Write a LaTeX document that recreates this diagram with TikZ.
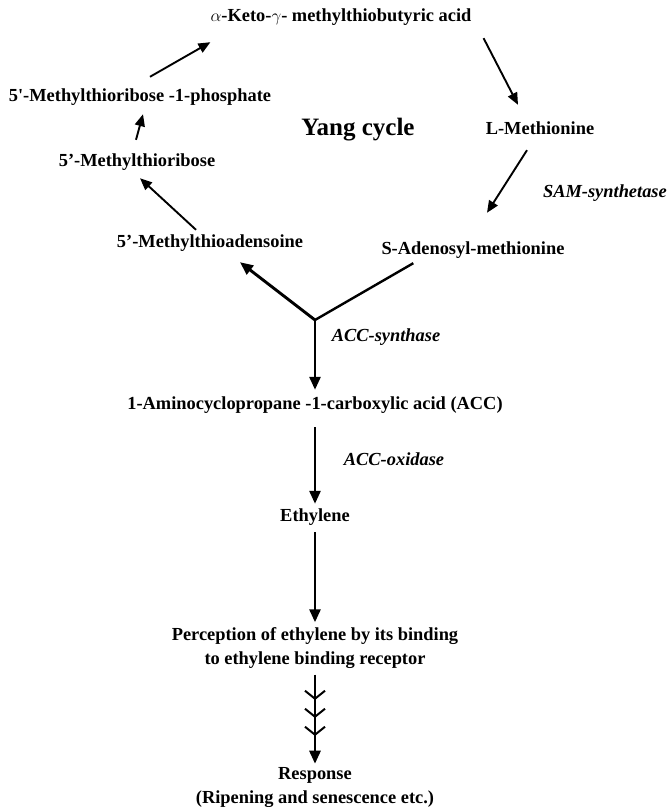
\documentclass[tikz,border=0pt]{standalone}
\usepackage{fontspec}
\setmainfont{Liberation Serif}
\usetikzlibrary{arrows.meta,calc}

\tikzset{
  cmpd/.style={font=\bfseries\fontsize{18.4}{24}\selectfont, inner sep=0pt, text height=13pt, text depth=4pt},
  twoline/.style={font=\bfseries\fontsize{18.4}{24}\selectfont, inner sep=0pt, align=center},
  enzyme/.style={font=\bfseries\itshape\fontsize{18.4}{22}\selectfont, inner sep=0pt},
  cyc/.style={color=black, line width=1.9pt, -{Triangle[length=12pt,width=10pt]}},
  flow/.style={color=black, line width=2.7pt, -{Triangle[length=13pt,width=11pt]}},
  plain/.style={color=black, line width=2.4pt},
}

\begin{document}
\begin{tikzpicture}[x=1pt, y=1pt]
        \useasboundingbox (0,0) rectangle (667,807);
        % Yang cycle
        \node[cmpd] (kmba) at (341,790) {$\alpha$-Keto-$\gamma$- methylthiobutyric acid};
        \node[cmpd] (mtrp) at (140,710) {5\textquotesingle-Methylthioribose -1-phosphate};
        \node[cmpd] (mtr) at (137,645) {5'-Methylthioribose};
        \node[cmpd] (mta) at (210,564) {5'-Methylthioadensoine};
        \node[cmpd] (met) at (540,677) {L-Methionine};
        \node[cmpd] (sam) at (473,557) {S-Adenosyl-methionine};
        \node[font=\bfseries\fontsize{25}{30}\selectfont, inner sep=0pt] (yang) at (358,677) {Yang cycle};
        \node[enzyme, anchor=east] (samsyn) at (667,614) {SAM-synthetase};
        \draw[cyc] ($(mtrp.north)+(10,11.5)$) -- ($(kmba.south west)+(0,-16.5)$);
        \draw[cyc] ($(kmba.south east)+(12,-12.5)$) -- ($(met.north)+(-22,16.5)$);
        \draw[cyc] ($(met.south)+(-13,-11.5)$) -- ($(sam.north)+(14,28.5)$);
        \draw[cyc] ($(mta.north)+(-14,4.5)$) -- ($(mtr.south)+(3,-7.5)$);
        \draw[cyc] ($(mtr.north)+(-1,13.5)$) -- ($(mtrp.south)+(3,-8.5)$);
        % ethylene pathway
        \coordinate (junc) at (315,487);
        \node[enzyme] (accsyn) at (386,470) {ACC-synthase};
        \node[cmpd] (acc) at (315,402) {1-Aminocyclopropane -1-carboxylic acid (ACC)};
        \node[enzyme] (accox) at (394,348) {ACC-oxidase};
        \node[cmpd] (eth) at (315,290) {Ethylene};
        \node[twoline] (perc) at (315,159) {Perception of ethylene by its binding\\to ethylene binding receptor};
        \node[twoline] (resp) at (315,19) {Response\\(Ripening and senescence etc.)};
        \draw[plain] ($(sam.south west)+(32,-4.5)$) -- (junc);
        \draw[flow, line width=2.9pt] (junc) -- ($(mta.south)+(30,-10.5)$);
        \draw[flow] (junc) -- ($(acc.north)+(0,6.5)$);
        \draw[flow] ($(acc.south)+(0,-13.5)$) -- ($(eth.north)+(0,4.5)$);
        \draw[flow] ($(eth.south)+(0,-6.5)$) -- ($(perc.north)+(0,5)$);
        \draw[flow] ($(perc.south)+(0,-6)$) -- ($(resp.north)+(0,4)$);
        % signal chevrons
        \draw[plain, line width=2pt] ($(resp.north)+(-10,77)$) -- ($(resp.north)+(0,69)$) -- ($(resp.north)+(10,77)$);
        \draw[plain, line width=2pt] ($(resp.north)+(-10,59)$) -- ($(resp.north)+(0,51)$) -- ($(resp.north)+(10,59)$);
        \draw[plain, line width=2pt] ($(resp.north)+(-10,41)$) -- ($(resp.north)+(0,33)$) -- ($(resp.north)+(10,41)$);
\end{tikzpicture}
\end{document}
